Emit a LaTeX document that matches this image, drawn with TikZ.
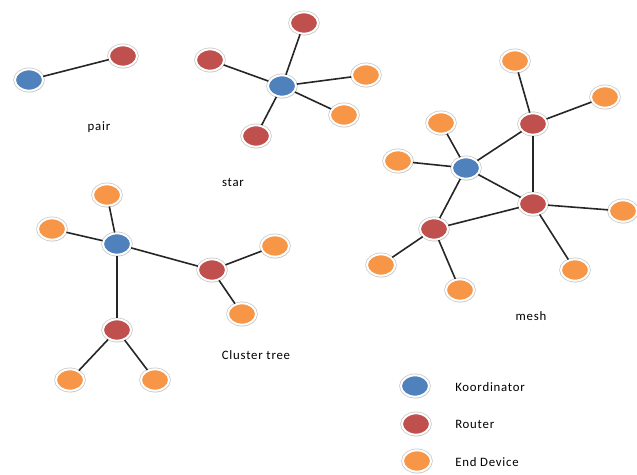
\documentclass[tikz,border=0pt]{standalone}
\usepackage{fontspec}
\setmainfont{Carlito}
\newfontfamily\lblfont[LetterSpace=6]{Carlito}
\usetikzlibrary{shapes.geometric,shadows}
\definecolor{kblue}{HTML}{4F81BD}
\definecolor{kred}{HTML}{C0504D}
\definecolor{korange}{HTML}{F79646}
\tikzset{
  dev/.style={ellipse, minimum width=21pt, minimum height=16pt, inner sep=0pt,
    draw=white, line width=1.5pt,
    preaction={draw=black!22, line width=2.6pt},
    drop shadow={shadow xshift=0.6pt, shadow yshift=-1.2pt, fill=black!25, opacity=0.6}},
  coord/.style={dev, fill=kblue},
  rout/.style={dev, fill=kred},
  endd/.style={dev, fill=korange},
  link/.style={draw=black!85, line width=1.2pt},
  lbl/.style={font=\lblfont\fontsize{9.6}{11}\selectfont, inner sep=0pt}
}
\begin{document}
\begin{tikzpicture}[x=0.75pt,y=-0.75pt]
\useasboundingbox (0,0) rectangle (637,475);
% pair
\node[coord] (p1) at (29,80) {};
\node[rout] (p2) at (123,56) {};
\draw[link] (p1) -- (p2);
\node[lbl] (lpair) at (99,127) {pair};
% star
\node[coord] (s0) at (282,86) {};
\node[rout] (s1) at (304,23) {};
\node[rout] (s2) at (210,60) {};
\node[rout] (s3) at (256,136) {};
\node[endd] (s4) at (366,75) {};
\node[endd] (s5) at (344,115) {};
\foreach \t in {s1,s2,s3,s4,s5} \draw[link] (s0) -- (\t);
\node[lbl] (lstar) at (233,182) {star};
% cluster tree
\node[coord] (c0) at (117,244) {};
\node[endd] (c1) at (107,195) {};
\node[endd] (c2) at (52,229) {};
\node[rout] (c3) at (212,270) {};
\node[rout] (c4) at (117,330) {};
\node[endd] (c5) at (275,246) {};
\node[endd] (c6) at (242,314) {};
\node[endd] (c7) at (70,380) {};
\node[endd] (c8) at (155,380) {};
\draw[link] (c0) -- (c1);
\draw[link] (c0) -- (c2);
\draw[link] (c0) -- (c3);
\draw[link] (c0) -- (c4);
\draw[link] (c3) -- (c5);
\draw[link] (c3) -- (c6);
\draw[link] (c4) -- (c7);
\draw[link] (c4) -- (c8);
\node[lbl] (lclu) at (256,355) {Cluster tree};
% mesh
\node[coord] (m0) at (466,168) {};
\node[rout] (r1) at (533,124) {};
\node[rout] (r2) at (533,204) {};
\node[rout] (r3) at (434,229) {};
\node[endd] (e1) at (515,61) {};
\node[endd] (e2) at (605,97) {};
\node[endd] (e3) at (441,123) {};
\node[endd] (e4) at (398,161) {};
\node[endd] (e5) at (623,211) {};
\node[endd] (e6) at (381,265) {};
\node[endd] (e7) at (460,290) {};
\node[endd] (e8) at (575,270) {};
\draw[link] (m0) -- (e3);
\draw[link] (m0) -- (e4);
\draw[link] (m0) -- (r1);
\draw[link] (m0) -- (r2);
\draw[link] (m0) -- (r3);
\draw[link] (r1) -- (e1);
\draw[link] (r1) -- (e2);
\draw[link] (r1) -- (r2);
\draw[link] (r2) -- (e5);
\draw[link] (r2) -- (e8);
\draw[link] (r2) -- (r3);
\draw[link] (r3) -- (e6);
\draw[link] (r3) -- (e7);
\node[lbl] (lmesh) at (531,316) {mesh};
% legend
\node[coord] (k1) at (415,386) {};
\node[rout] (k2) at (416,424) {};
\node[endd] (k3) at (417,461) {};
\node[lbl, anchor=west] (t1) at (455,387) {Koordinator};
\node[lbl, anchor=west] (t2) at (455,424) {Router};
\node[lbl, anchor=west] (t3) at (455,462) {End Device};
\end{tikzpicture}
\end{document}
